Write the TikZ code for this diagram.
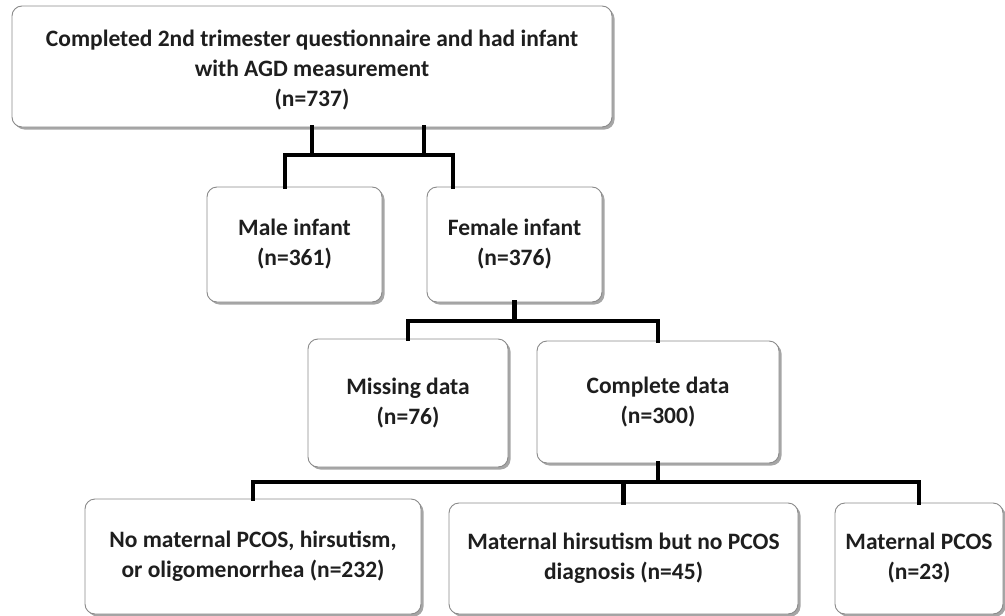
\documentclass[tikz,border=0pt]{standalone}
\usepackage{fontspec}
\setmainfont{Carlito}
\usetikzlibrary{shadows}
\definecolor{txt}{HTML}{1E1E1E}
\definecolor{bord}{HTML}{8A8A8A}
\tikzset{
  box/.style={draw=bord, line width=0.9pt, rounded corners=10pt, fill=white,
    align=center, text=txt, inner sep=0pt,
    font=\fontsize{23.5}{30}\selectfont\bfseries,
    drop shadow={shadow xshift=2.5pt, shadow yshift=-2.5pt, fill=black, opacity=0.35}},
  conn/.style={draw=black, line width=4.5pt, line join=miter, line cap=rect}
}
\begin{document}
\begin{tikzpicture}[x=1pt,y=-1pt]
\useasboundingbox (0,0) rectangle (1005,616);
% nodes
\node[box, minimum width=600pt, minimum height=121pt] (top) at (312,66.5)
  {\rule{0pt}{6pt}\\[-12pt]Completed 2nd trimester questionnaire and had infant\\with AGD measurement\\(n=737)};
\node[box, minimum width=175pt, minimum height=115pt] (male) at (294.5,244.5)
  {Male infant\\(n=361)};
\node[box, minimum width=175pt, minimum height=115pt] (female) at (514.5,244.5)
  {Female infant\\(n=376)};
\node[box, minimum width=200pt, minimum height=128pt] (missing) at (408,403)
  {Missing data\\(n=76)};
\node[box, minimum width=242pt, minimum height=122pt] (complete) at (658,402)
  {Complete data\\(n=300)};
\node[box, minimum width=336pt, minimum height=115pt] (nopcos) at (253,556.5)
  {No maternal PCOS, hirsutism,\\or oligomenorrhea (n=232)};
\node[box, minimum width=349pt, minimum height=111pt] (hirs) at (623.5,558.5)
  {Maternal hirsutism but no PCOS\\diagnosis (n=45)};
\node[box, minimum width=168pt, minimum height=111pt] (pcos) at (919,558.5)
  {Maternal PCOS\\(n=23)};
% junction coordinates
\coordinate (j1) at (285,155);
\coordinate (j2) at (453,155);
\coordinate (t2) at (424,127);
\coordinate (j3) at (513,321);
\coordinate (j4) at (658,482);
% connectors
\draw[conn] (top.south) -- (top.south |- j1);
\draw[conn] (t2) -- (t2 |- j1);
\draw[conn] (j1 |- male.north) -- (j1) -- (j2) -- (j2 |- female.north);
\draw[conn] (female.south) -- (female.south |- j3);
\draw[conn] (missing.north) |- (j3) -| (complete.north);
\draw[conn] (complete.south) -- (j4);
\draw[conn] (nopcos.north) |- (j4) -| (pcos.north);
\draw[conn] (hirs.north) -- (hirs.north |- j4);
\end{tikzpicture}
\end{document}
